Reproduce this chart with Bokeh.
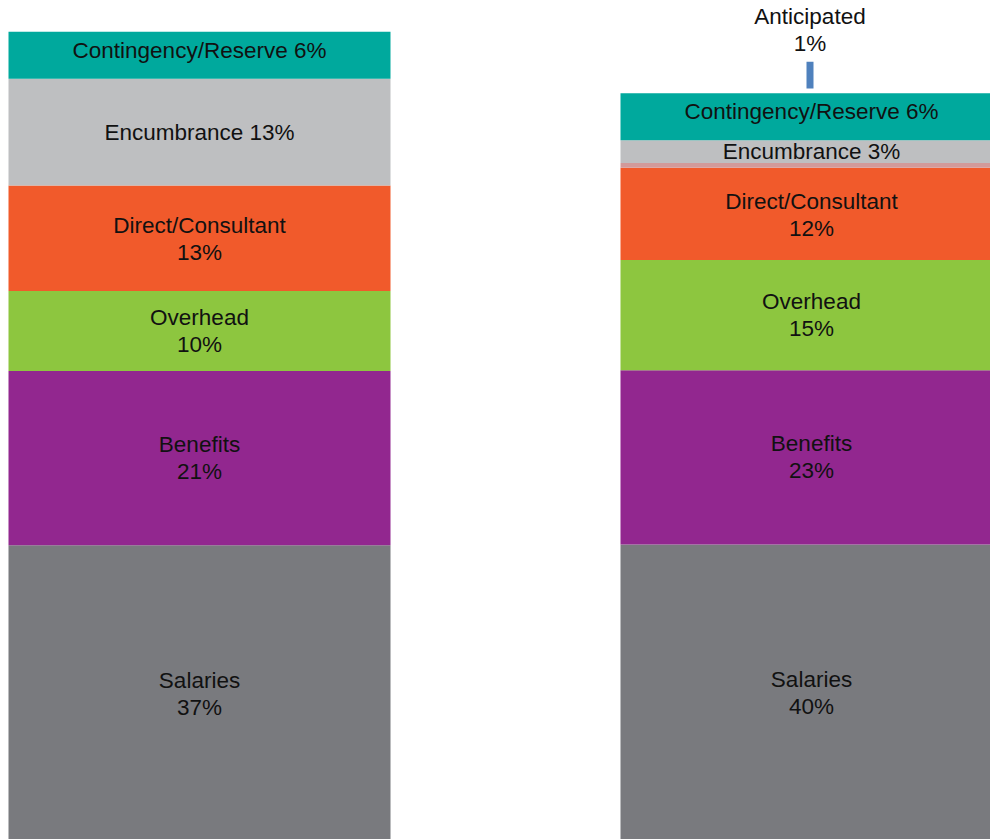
from bokeh.plotting import figure
from bokeh.models import ColumnDataSource, Range1d
from bokeh.core.properties import value
from bokeh.embed import file_html
from bokeh.resources import INLINE

# ---- data ----
segments = ["Salaries", "Benefits", "Overhead", "Direct/Consultant", "Other", "Encumbrance", "Contingency/Reserve"]
colors = ["#797a7e", "#92278f", "#8dc63f", "#f15a2b", "#d29a9a", "#bebfc1", "#00a99d"]

left_values = [36.7, 21.5, 9.9, 13.0, 0.0, 13.2, 5.8]
right_values = [36.8, 21.5, 13.6, 11.4, 0.6, 2.8, 5.8]

left_labels = ["Salaries\n37%", "Benefits\n21%", "Overhead\n10%", "Direct/Consultant\n13%", "",
               "Encumbrance 13%", "Contingency/Reserve 6%"]
right_labels = ["Salaries\n40%", "Benefits\n23%", "Overhead\n15%", "Direct/Consultant\n12%", "",
                "Encumbrance 3%", "Contingency/Reserve 6%"]

anticipated_gap = 0.6
anticipated_value = 3.3
anticipated_label = "Anticipated\n1%"
anticipated_color = "#4f81bd"

# ---- layout ----
bar_centers = [199, 811]
bar_width = 382
label_offsets = {"Contingency/Reserve": -5, "Direct/Consultant": 1}

p = figure(width=990, height=839, output_backend="svg", toolbar_location=None,
           x_range=Range1d(0, 990), y_range=Range1d(0.37, 103.95), min_border=0)
p.axis.visible = False
p.grid.visible = False
p.outline_line_color = None
p.background_fill_color = "white"
p.border_fill_color = "white"

xs, bottoms, tops, cols, labs, mids, offs = [], [], [], [], [], [], []
for cx, vals, labels in [(bar_centers[0], left_values, left_labels), (bar_centers[1], right_values, right_labels)]:
    acc = 0.0
    for seg, v, c, lab in zip(segments, vals, colors, labels):
        if v > 0:
            xs.append(cx)
            bottoms.append(acc)
            tops.append(acc + v)
            cols.append(c)
            labs.append(lab)
            mids.append(acc + v / 2)
            offs.append(label_offsets.get(seg, 0))
        acc += v

src = ColumnDataSource(dict(x=xs, bottom=bottoms, top=tops, color=cols, label=labs, mid=mids, off=offs))
p.vbar(x="x", width=bar_width, bottom="bottom", top="top", fill_color="color", line_color=None, source=src)
p.text(x="x", y="mid", text="label", source=src, text_align="center", text_baseline="middle",
       y_offset="off", text_font=value("Liberation Sans"), text_font_size="22.5px", text_color="#111111",
       text_line_height=1.08)

right_total = sum(right_values)
ab = right_total + anticipated_gap
at = ab + anticipated_value
asrc = ColumnDataSource(dict(x=[bar_centers[1] - 1.5], bottom=[ab], top=[at], label=[anticipated_label]))
p.vbar(x="x", width=7, bottom="bottom", top="top", fill_color=anticipated_color, line_color=None, source=asrc)
p.text(x="x", y="top", text="label", source=asrc, text_align="center", text_baseline="middle",
       y_offset=-32, text_font=value("Liberation Sans"), text_font_size="22.5px", text_color="#111111",
       text_line_height=1.08)

open("out.html", "w").write(file_html(p, INLINE))
